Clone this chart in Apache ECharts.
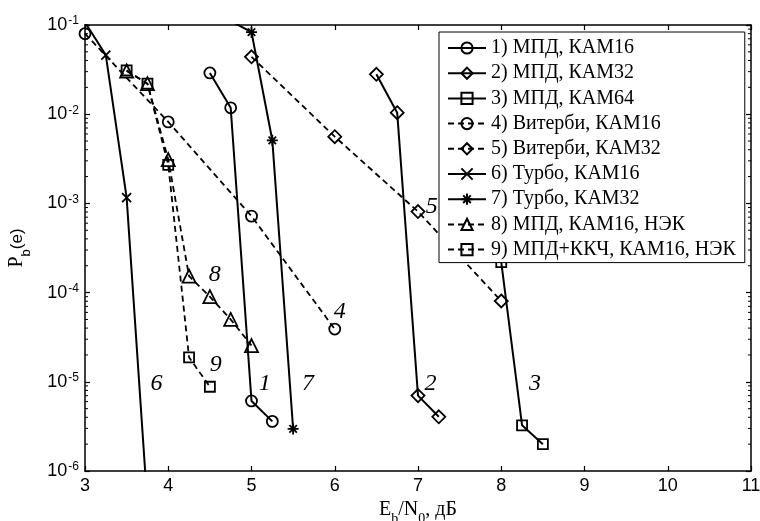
<!DOCTYPE html>
<html><head><meta charset="utf-8">
<script src="https://cdn.jsdelivr.net/npm/echarts@6/dist/echarts.min.js"></script>
<style>html,body{margin:0;padding:0;background:#fff}#c{width:760px;height:521px}</style>
</head><body><div id="c"></div>
<script>
// ---- data ----
const xTicks = [3, 4, 5, 6, 7, 8, 9, 10, 11];
const yTickExps = [-6, -5, -4, -3, -2, -1];
const seriesNames = [
  '1) МПД, КАМ16', '2) МПД, КАМ32', '3) МПД, КАМ64',
  '4) Витерби, КАМ16', '5) Витерби, КАМ32',
  '6) Турбо, КАМ16', '7) Турбо, КАМ32',
  '8) МПД, КАМ16, НЭК', '9) МПД+ККЧ, КАМ16, НЭК'
];
const s1x = [4.5, 4.75, 5, 5.25];
const s1y = [0.029, 0.0118, 6.1e-6, 3.6e-6];
const s2x = [6.5, 6.75, 7, 7.25];
const s2y = [0.028, 0.0104, 7.0e-6, 4.05e-6];
const s3x = [7.75, 8, 8.25, 8.5];
const s3y = [0.011, 2.2e-4, 3.25e-6, 2.0e-6];
const s4x = [3, 4, 5, 6];
const s4y = [0.08, 0.0082, 7.2e-4, 3.9e-5];
const s5x = [5, 6, 7, 8];
const s5y = [0.044, 0.0056, 8.1e-4, 8.05e-5];
const s6x = [3, 3.25, 3.5, 3.75];
const s6y = [0.107, 0.046, 1.16e-3, 4.2e-7];
const s7x = [4.75, 5, 5.25, 5.5];
const s7y = [0.111, 0.083, 0.0051, 2.96e-6];
const s8x = [3.5, 3.75, 4, 4.25, 4.5, 4.75, 5];
const s8y = [0.0305, 0.022, 0.0031, 1.53e-4, 9.0e-5, 5.0e-5, 2.55e-5];
const s9x = [3.5, 3.75, 4, 4.25, 4.5];
const s9y = [0.031, 0.022, 0.0027, 1.88e-5, 8.8e-6];
const curveLabelText = ['1', '2', '3', '4', '5', '6', '7', '8', '9'];
const curveLabelX = [5.16, 7.15, 8.405, 6.06, 7.165, 3.86, 5.68, 4.56, 4.57];
const curveLabelY = [9.6e-6, 9.6e-6, 9.6e-6, 6.1e-5, 9.2e-4, 9.6e-6, 9.6e-6, 1.57e-4, 1.55e-5];

// ---- styling ----
const X_PATH = 'path://M0,0L10,10M10,0L0,10';
const STAR_PATH = 'path://M5,0L5,10M0,5L10,5M1.6,1.6L8.4,8.4M8.4,1.6L1.6,8.4';
const xs = [s1x, s2x, s3x, s4x, s5x, s6x, s7x, s8x, s9x];
const ys = [s1y, s2y, s3y, s4y, s5y, s6y, s7y, s8y, s9y];
const symbols = ['circle', 'diamond', 'rect', 'circle', 'diamond', X_PATH, STAR_PATH, 'triangle', 'rect'];
const symSizes = [11, 13, 10, 11, 13, 9, 11, 13, 10];
const dashed = [false, false, false, true, true, false, false, true, true];

const series = seriesNames.map((n, i) => ({
  name: n,
  type: 'line',
  data: xs[i].map((x, k) => [x, ys[i][k]]),
  symbol: symbols[i],
  symbolSize: symSizes[i],
  showAllSymbol: true,
  clip: true,
  z: 3,
  lineStyle: { color: '#000', width: dashed[i] ? 1.8 : 2, type: dashed[i] ? [6, 4] : 'solid' },
  itemStyle: { color: 'rgba(0,0,0,0)', borderColor: '#000', borderWidth: 1.8 },
  emphasis: { disabled: true },
  animation: false
}));

const xMin = xTicks[0], xMax = xTicks[xTicks.length - 1];
const yMin = Math.pow(10, yTickExps[0]), yMax = Math.pow(10, yTickExps[yTickExps.length - 1]);
const minorVals = [];
for (let e = yTickExps[0]; e < yTickExps[yTickExps.length - 1]; e++)
  for (let m = 2; m <= 9; m++) minorVals.push([xMin, m * Math.pow(10, e)]);

series.push({
  type: 'custom',
  data: minorVals,
  silent: true,
  z: 5,
  renderItem: function (params, api) {
    const v = api.value(1);
    const pl = api.coord([xMin, v]);
    const pr = api.coord([xMax, v]);
    return {
      type: 'group',
      children: [
        { type: 'line', shape: { x1: pl[0], y1: pl[1], x2: pl[0] + 3, y2: pl[1] }, style: { stroke: '#000', lineWidth: 1 } },
        { type: 'line', shape: { x1: pr[0], y1: pr[1], x2: pr[0] - 3, y2: pr[1] }, style: { stroke: '#000', lineWidth: 1 } }
      ]
    };
  },
  animation: false
});

series.push({
  type: 'scatter',
  data: curveLabelText.map((t, i) => ({ name: t, value: [curveLabelX[i], curveLabelY[i]] })),
  symbolSize: 1,
  itemStyle: { color: 'rgba(0,0,0,0)', opacity: 1 },
  silent: true,
  z: 4,
  label: {
    show: true, position: 'inside', formatter: '{b}',
    fontFamily: 'Liberation Serif', fontStyle: 'italic', fontSize: 24, color: '#000',
    textBorderWidth: 0, opacity: 1
  },
  animation: false
});

const axisLineStyle = { color: '#000', width: 1.5 };
const chart = echarts.init(document.getElementById('c'), null, { renderer: 'canvas' });
chart.setOption({
  backgroundColor: '#fff',
  animation: false,
  grid: { left: 85, right: 9, top: 25, bottom: 50, containLabel: false, outerBoundsMode: 'none' },
  legend: {
    data: seriesNames,
    orient: 'vertical',
    left: 439, top: 32,
    padding: [6, 9, 3, 8],
    itemGap: 5.2,
    itemWidth: 38,
    itemHeight: 14,
    backgroundColor: '#fff',
    borderColor: '#000',
    borderWidth: 1,
    borderRadius: 0,
    selectedMode: false,
    z: 10,
    textStyle: { fontFamily: 'Liberation Serif', fontSize: 20, lineHeight: 20, color: '#000' }
  },
  xAxis: [{
    type: 'value', min: xMin, max: xMax, interval: 1,
    position: 'bottom',
    axisLine: { show: true, onZero: false, lineStyle: axisLineStyle },
    axisTick: { show: true, inside: true, length: 5, lineStyle: { color: '#000', width: 1.2 } },
    splitLine: { show: false },
    axisLabel: { color: '#000', fontFamily: 'Liberation Sans', fontSize: 18, margin: 6 },
    name: '{m|E}{s|b}{m|/N}{s|0}{m|, дБ}',
    nameLocation: 'middle',
    nameGap: 28,
    nameTextStyle: {
      rich: {
        m: { fontFamily: 'Liberation Serif', fontSize: 20, color: '#000' },
        s: { fontFamily: 'Liberation Serif', fontSize: 14, color: '#000', verticalAlign: 'bottom', padding: [0, 0, -6, 0] }
      }
    }
  }, {
    type: 'value', min: xMin, max: xMax, interval: 1,
    position: 'top',
    axisLine: { show: true, onZero: false, lineStyle: axisLineStyle },
    axisTick: { show: true, inside: true, length: 5, lineStyle: { color: '#000', width: 1.2 } },
    splitLine: { show: false },
    axisLabel: { show: false }
  }],
  yAxis: [{
    type: 'log', logBase: 10, min: yMin, max: yMax,
    position: 'left',
    axisLine: { show: true, onZero: false, lineStyle: axisLineStyle },
    axisTick: { show: true, inside: true, length: 5, lineStyle: { color: '#000', width: 1.2 } },
    splitLine: { show: false },
    axisLabel: {
      margin: 6,
      formatter: function (v) { return '{b|10}{s|' + Math.round(Math.log10(v)) + '}'; },
      rich: {
        b: { fontFamily: 'Liberation Sans', fontSize: 18, color: '#000' },
        s: { fontFamily: 'Liberation Sans', fontSize: 12, color: '#000', verticalAlign: 'top', padding: [0, 0, 8, 1] }
      }
    },
    name: '{p|P}{s|b}{e|(e)}',
    nameLocation: 'middle',
    nameRotate: 90,
    nameGap: 58,
    nameTextStyle: {
      rich: {
        p: { fontFamily: 'Liberation Serif', fontSize: 20, color: '#000' },
        s: { fontFamily: 'Liberation Sans', fontSize: 13, color: '#000', verticalAlign: 'bottom', padding: [0, 0, -6, 0] },
        e: { fontFamily: 'Liberation Sans', fontSize: 17, color: '#000' }
      }
    }
  }, {
    type: 'log', logBase: 10, min: yMin, max: yMax,
    position: 'right',
    axisLine: { show: true, onZero: false, lineStyle: axisLineStyle },
    axisTick: { show: true, inside: true, length: 5, lineStyle: { color: '#000', width: 1.2 } },
    splitLine: { show: false },
    axisLabel: { show: false }
  }],
  series: series
});
</script>
</body></html>
